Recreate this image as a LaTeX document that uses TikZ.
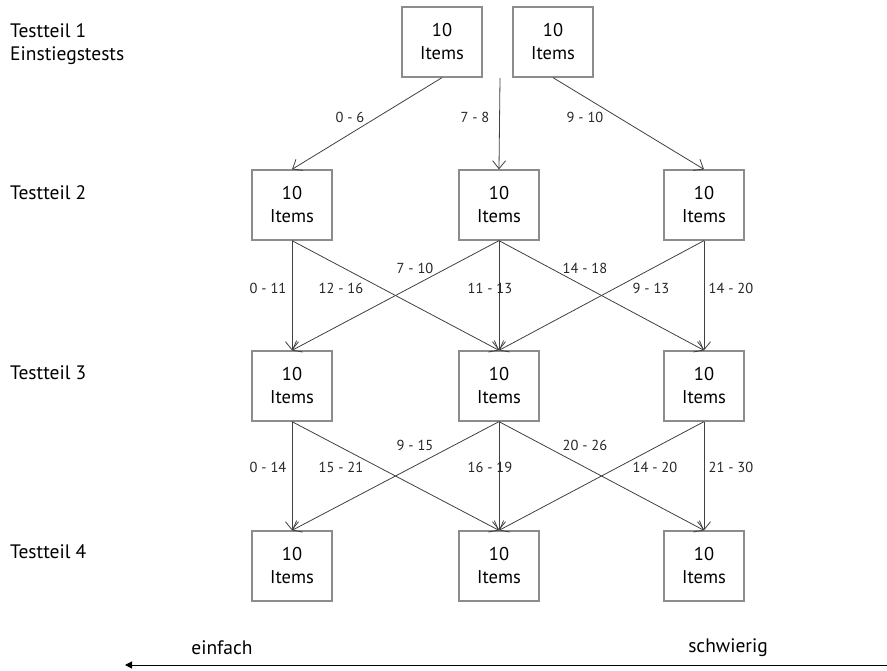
\documentclass[tikz,border=0pt]{standalone}
\usepackage{fontspec}
\setmainfont{PT Sans}
\usetikzlibrary{arrows.meta}
\begin{document}
\begin{tikzpicture}[x=1pt,y=-1pt,
  box/.style={draw=black!45,line width=1.3pt,minimum width=80pt,minimum height=70pt,inner sep=0pt,align=center,font=\fontsize{18.5}{23}\selectfont},
  conn/.style={draw=black!75,line width=0.8pt,-{Straight Barb[length=8pt,width=13pt]}},
  lab/.style={font=\fontsize{14.5}{16}\selectfont,text=black!85,inner sep=1pt},
  row/.style={font=\fontsize{19.5}{24}\selectfont,anchor=west,inner sep=0pt,align=left}]
\useasboundingbox (0,0) rectangle (887,671);
% top row
\node[box] (t1) at (442,42) {10\\Items};
\node[box] (t2) at (553,42) {10\\Items};
\coordinate (tm) at (500,78);
% rows
\foreach \r/\y in {2/205,3/386,4/566}{
  \node[box] (l\r) at (292,\y) {10\\Items};
  \node[box] (m\r) at (499,\y) {10\\Items};
  \node[box] (r\r) at (704,\y) {10\\Items};
}
% left labels
\node[row] (h1) at (10,44) {Testteil 1\\[-1pt]Einstiegstests};
\node[row] (h2) at (10,193) {Testteil 2};
\node[row] (h3) at (10,373) {Testteil 3};
\node[row] (h4) at (10,552) {Testteil 4};
% top connectors
\draw[conn] (t1.south) -- (l2.north);
\draw[conn] (tm) -- (m2.north);
\draw[conn] (t2.south) -- (r2.north);
\node[lab] (a1) at (350,117) {0 - 6};
\node[lab] (a2) at (475,117) {7 - 8};
\node[lab] (a3) at (585,117) {9 - 10};
% row 2 -> 3 and 3 -> 4
\foreach \a/\b in {2/3,3/4}{
  \draw[conn] (l\a.south) -- (l\b.north);
  \draw[conn] (l\a.south) -- (m\b.north);
  \draw[conn] (m\a.south) -- (l\b.north);
  \draw[conn] (m\a.south) -- (m\b.north);
  \draw[conn] (m\a.south) -- (r\b.north);
  \draw[conn] (r\a.south) -- (m\b.north);
  \draw[conn] (r\a.south) -- (r\b.north);
}
\node[lab] (b1) at (268,288) {0 - 11};
\node[lab] (b2) at (341,288) {12 - 16};
\node[lab] (b3) at (415,268) {7 - 10};
\node[lab] (b4) at (490,288) {11 - 13};
\node[lab] (b5) at (585,268) {14 - 18};
\node[lab] (b6) at (651,288) {9 - 13};
\node[lab] (b7) at (731,288) {14 - 20};
\node[lab] (c1) at (268,467) {0 - 14};
\node[lab] (c2) at (341,467) {15 - 21};
\node[lab] (c3) at (415,445) {9 - 15};
\node[lab] (c4) at (490,467) {16 - 19};
\node[lab] (c5) at (585,445) {20 - 26};
\node[lab] (c6) at (655,467) {14 - 20};
\node[lab] (c7) at (731,467) {21 - 30};
% bottom axis
\coordinate (ax1) at (125,665);
\coordinate (ax2) at (887,665);
\draw[line width=1pt,{Triangle[length=7pt,width=7pt]}-] (ax1) -- (ax2);
\node[row,anchor=center] (e1) at (222,648) {einfach};
\node[row,anchor=center] (e2) at (728,648) {schwierig};
\end{tikzpicture}
\end{document}
